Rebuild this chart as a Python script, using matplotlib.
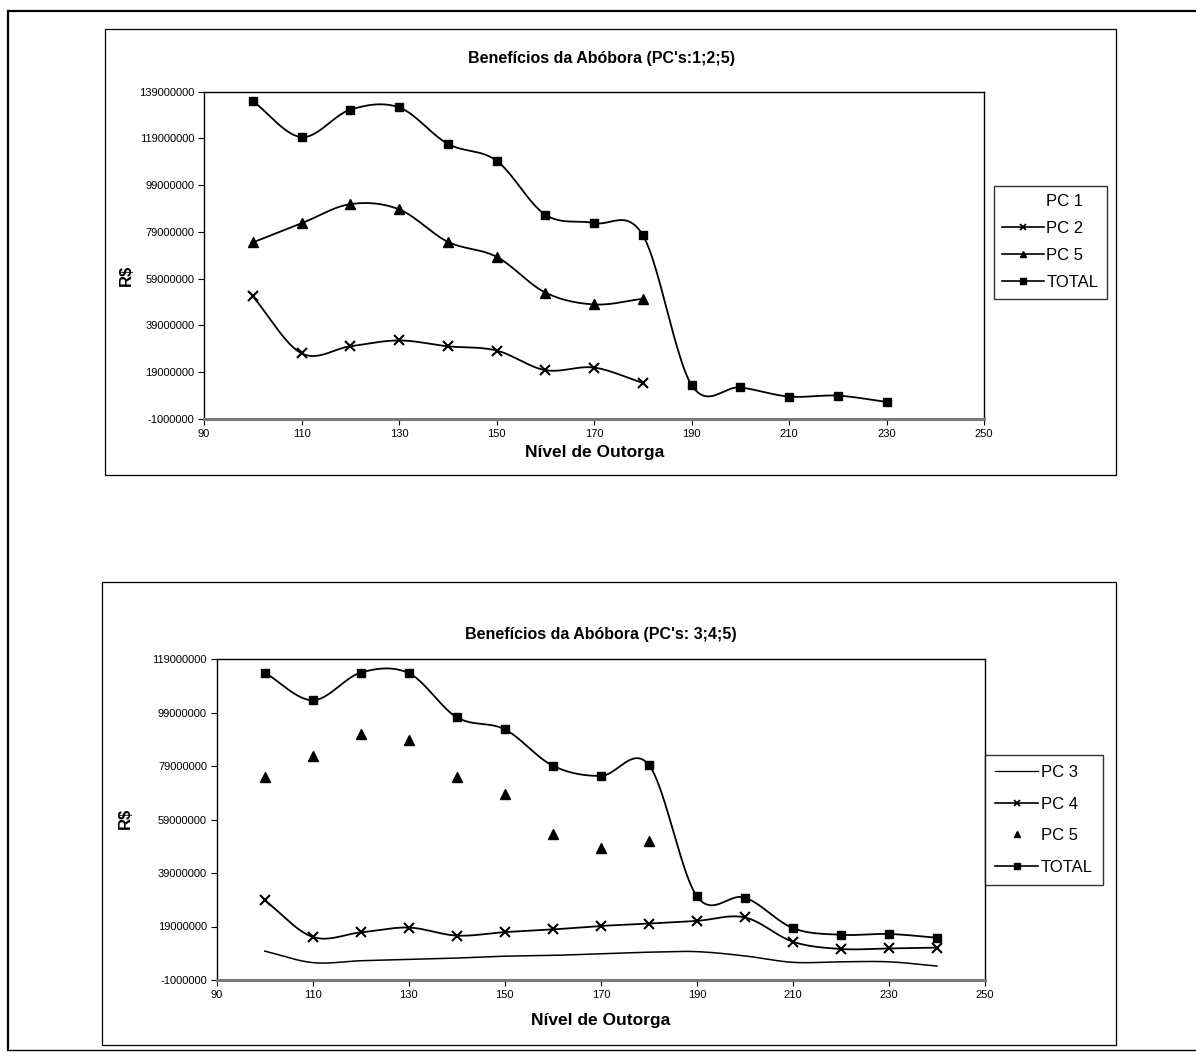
import numpy as np
import matplotlib
matplotlib.use("Agg")
import matplotlib.pyplot as plt
from matplotlib.lines import Line2D
from matplotlib.patches import Rectangle
from matplotlib.ticker import FuncFormatter

plt.rcParams['font.family'] = ['Liberation Sans', 'DejaVu Sans']

# ---------------- data ----------------
# Chart 1: PC's 1;2;5
x_top_short = [100, 110, 120, 130, 140, 150, 160, 170, 180]
pc2_top = [51.5e6, 27.1e6, 30.1e6, 32.6e6, 30.1e6, 28.3e6, 19.9e6, 21.0e6, 14.4e6]
pc5_top = [74.5e6, 82.7e6, 90.9e6, 88.7e6, 74.8e6, 68.4e6, 53.1e6, 48.0e6, 50.4e6]
x_top_total = [100, 110, 120, 130, 140, 150, 160, 170, 180, 190, 200, 210, 220, 230]
total_top = [135.0e6, 119.6e6, 131.3e6, 132.3e6, 116.7e6, 109.5e6, 86.4e6, 82.8e6,
             77.7e6, 13.6e6, 12.5e6, 8.6e6, 9.0e6, 6.3e6]

# Chart 2: PC's 3;4;5
x_bot = [100, 110, 120, 130, 140, 150, 160, 170, 180, 190, 200, 210, 220, 230, 240]
pc3_bot = [9.8e6, 5.5e6, 6.2e6, 6.7e6, 7.2e6, 7.9e6, 8.2e6, 8.8e6, 9.4e6, 9.6e6,
           8.0e6, 5.6e6, 5.8e6, 5.8e6, 4.2e6]
pc4_bot = [28.8e6, 15.1e6, 16.8e6, 18.6e6, 15.6e6, 16.9e6, 17.9e6, 19.2e6, 20.1e6,
           21.1e6, 22.4e6, 13.3e6, 10.6e6, 10.8e6, 11.1e6]
x_bot_pc5 = [100, 110, 120, 130, 140, 150, 160, 170, 180]
pc5_bot = [74.8e6, 82.9e6, 91.1e6, 88.8e6, 74.8e6, 68.7e6, 53.6e6, 48.2e6, 51.0e6]
total_bot = [113.9e6, 103.6e6, 113.9e6, 113.7e6, 97.2e6, 92.7e6, 79.1e6, 75.3e6,
             79.4e6, 30.3e6, 29.8e6, 18.4e6, 15.9e6, 16.2e6, 14.8e6]

x_ticks = [90, 110, 130, 150, 170, 190, 210, 230, 250]
y_ticks_top = [-1000000, 19000000, 39000000, 59000000, 79000000, 99000000, 119000000, 139000000]
y_ticks_bot = [-1000000, 19000000, 39000000, 59000000, 79000000, 99000000, 119000000]

title_top = "Benefícios da Abóbora (PC's:1;2;5)"
title_bot = "Benefícios da Abóbora (PC's: 3;4;5)"
xlabel = "Nível de Outorga"
ylabel = "R$"


def smooth(x, y, n=24):
    """Uniform Catmull-Rom smoothing (like Excel's smoothed lines)."""
    pts = np.column_stack([np.asarray(x, float), np.asarray(y, float)])
    if len(pts) < 3:
        return pts[:, 0], pts[:, 1]
    P = np.vstack([2 * pts[0] - pts[1], pts, 2 * pts[-1] - pts[-2]])
    out = []
    t = np.linspace(0, 1, n, endpoint=False)[:, None]
    for i in range(1, len(P) - 2):
        p0, p1, p2, p3 = P[i - 1], P[i], P[i + 1], P[i + 2]
        seg = 0.5 * ((2 * p1) + (-p0 + p2) * t + (2 * p0 - 5 * p1 + 4 * p2 - p3) * t ** 2
                     + (-p0 + 3 * p1 - 3 * p2 + p3) * t ** 3)
        out.append(seg)
    out.append(pts[-1:])
    s = np.vstack(out)
    return s[:, 0], s[:, 1]


W, H = 1196, 1057
fig = plt.figure(figsize=(W / 100, H / 100), dpi=100)
fig.patch.set_facecolor('white')


def fx(px):
    return px / W


def fy(py):
    return 1 - py / H


def box(x0, y0, x1, y1, lw=1.0, color='black'):
    fig.add_artist(Rectangle((fx(x0), fy(y1)), fx(x1) - fx(x0), fy(y0) - fy(y1),
                             transform=fig.transFigure, fill=False, lw=lw,
                             edgecolor=color))


# outer frame
fig.add_artist(Line2D([fx(8), fx(8)], [fy(11), fy(1050)], transform=fig.transFigure, color='k', lw=1.6))
fig.add_artist(Line2D([fx(8), fx(1196)], [fy(11), fy(11)], transform=fig.transFigure, color='k', lw=1.6))
fig.add_artist(Line2D([fx(8), fx(1196)], [fy(1050), fy(1050)], transform=fig.transFigure, color='k', lw=1.0))

# chart boxes
box(105, 29, 1116, 475, lw=0.9)
box(102, 582, 1116, 1045, lw=0.9)

fmt = FuncFormatter(lambda v, p: f"{int(round(v))}")


def style_axes(ax, yticks, ymin, ymax):
    ax.set_xlim(90, 250)
    ax.set_ylim(ymin, ymax)
    ax.set_xticks(x_ticks)
    ax.set_yticks(yticks)
    ax.yaxis.set_major_formatter(fmt)
    ax.tick_params(axis='both', direction='out', length=4, width=0.8, labelsize=8, pad=3)
    for s in ['top', 'right', 'left']:
        ax.spines[s].set_linewidth(1.0)
    ax.spines['bottom'].set_linewidth(2.2)
    ax.spines['bottom'].set_color('#7a7a7a')


# ---------------- top chart ----------------
ax1 = fig.add_axes([fx(204), fy(419), fx(984) - fx(204), fy(91.7) - fy(419)])
style_axes(ax1, y_ticks_top, -1000000, 139000000)

lw = 1.3
sx, sy = smooth(x_top_short, pc2_top)
ax1.plot(sx, sy, color='k', lw=lw)
ax1.plot(x_top_short, pc2_top, ls='none', marker='x', ms=6.5, mew=1.5, color='k')
sx, sy = smooth(x_top_short, pc5_top)
ax1.plot(sx, sy, color='k', lw=lw)
ax1.plot(x_top_short, pc5_top, ls='none', marker='^', ms=6.5, color='k')
sx, sy = smooth(x_top_total, total_top)
ax1.plot(sx, sy, color='k', lw=lw)
ax1.plot(x_top_total, total_top, ls='none', marker='s', ms=6, color='k')

fig.text(fx(601), fy(58), title_top, ha='center', va='center', fontsize=11.5, fontweight='bold')
fig.text(fx(595), fy(452), xlabel, ha='center', va='center', fontsize=12.5, fontweight='bold')
fig.text(fx(126), fy(275), ylabel, ha='center', va='center', fontsize=12, fontweight='bold', rotation=90)

h_top = [
    Line2D([], [], ls='none', marker='none'),
    Line2D([], [], color='k', lw=1.2, marker='x', ms=5, mew=1.3),
    Line2D([], [], color='k', lw=1.2, marker='^', ms=5),
    Line2D([], [], color='k', lw=1.2, marker='s', ms=5),
]
leg1 = fig.legend(h_top, ['PC 1', 'PC 2', 'PC 5', 'TOTAL'], loc='upper left',
                  bbox_to_anchor=(fx(994), fy(186)), borderaxespad=0, fontsize=12,
                  frameon=True, fancybox=False, edgecolor='k', handlelength=2.5,
                  handletextpad=0.15, labelspacing=0.72, borderpad=0.5)
leg1.get_frame().set_linewidth(1.0)

# ---------------- bottom chart ----------------
ax2 = fig.add_axes([fx(216.7), fy(980), fx(985) - fx(216.7), fy(659) - fy(980)])
style_axes(ax2, y_ticks_bot, -1000000, 119000000)

sx, sy = smooth(x_bot, pc3_bot)
ax2.plot(sx, sy, color='k', lw=1.1)
sx, sy = smooth(x_bot, pc4_bot)
ax2.plot(sx, sy, color='k', lw=lw)
ax2.plot(x_bot, pc4_bot, ls='none', marker='x', ms=6.5, mew=1.5, color='k')
ax2.plot(x_bot_pc5, pc5_bot, ls='none', marker='^', ms=6.5, color='k')
sx, sy = smooth(x_bot, total_bot)
ax2.plot(sx, sy, color='k', lw=lw)
ax2.plot(x_bot, total_bot, ls='none', marker='s', ms=6, color='k')

fig.text(fx(601), fy(634), title_bot, ha='center', va='center', fontsize=11.5, fontweight='bold')
fig.text(fx(601), fy(1020), xlabel, ha='center', va='center', fontsize=12.5, fontweight='bold')
fig.text(fx(125), fy(818), ylabel, ha='center', va='center', fontsize=12, fontweight='bold', rotation=90)

h_bot = [
    Line2D([], [], color='k', lw=0.9),
    Line2D([], [], color='k', lw=1.2, marker='x', ms=5, mew=1.3),
    Line2D([], [], ls='none', color='k', marker='^', ms=5),
    Line2D([], [], color='k', lw=1.2, marker='s', ms=5),
]
leg2 = fig.legend(h_bot, ['PC 3', 'PC 4', 'PC 5', 'TOTAL'], loc='upper left',
                  bbox_to_anchor=(fx(985), fy(755)), borderaxespad=0, fontsize=12,
                  frameon=True, fancybox=False, edgecolor='k', handlelength=2.6,
                  handletextpad=0.15, labelspacing=1.0, borderpad=0.6)
leg2.get_frame().set_linewidth(1.0)

fig.savefig('out.png', dpi=100, facecolor='white')
